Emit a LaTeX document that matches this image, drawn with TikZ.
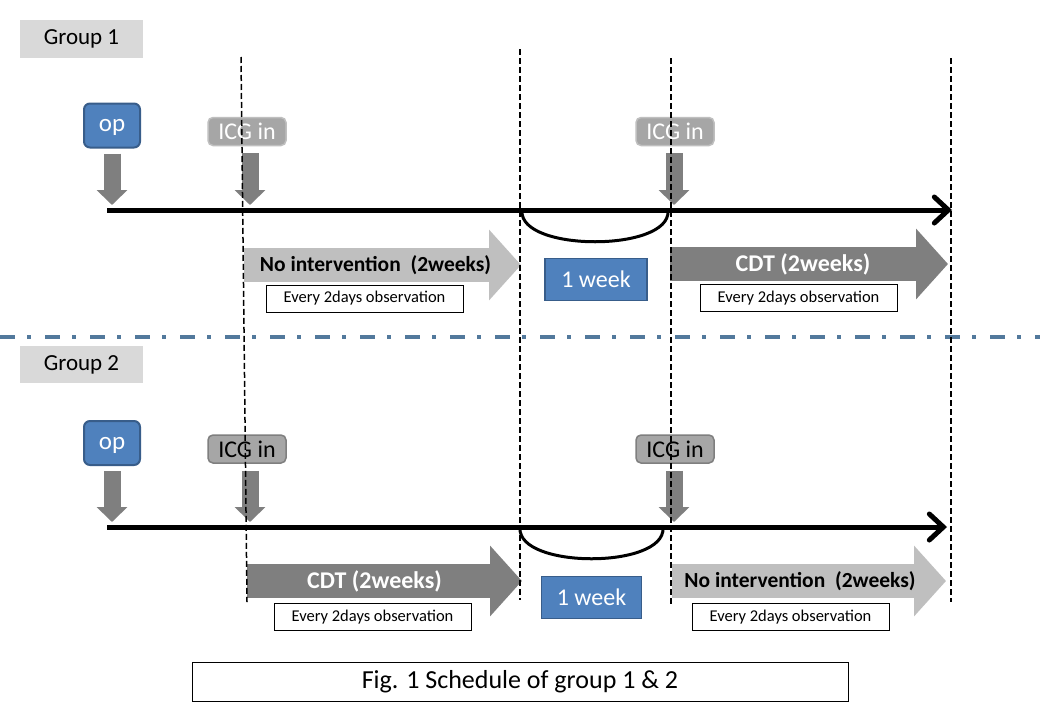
\documentclass[tikz,border=0pt]{standalone}
\usepackage{fontspec}
\setmainfont{Carlito}
\usetikzlibrary{arrows.meta,calc,positioning}
\definecolor{boxblue}{HTML}{4F81BD}
\definecolor{boxedge}{HTML}{385D8A}
\definecolor{labelgray}{HTML}{D9D9D9}
\definecolor{icggray}{HTML}{A6A6A6}
\definecolor{darkarrow}{HTML}{7F7F7F}
\definecolor{lightarrow}{HTML}{BFBFBF}
\definecolor{sepblue}{HTML}{52799C}
\newcommand{\fs}[1]{\fontsize{#1}{#1}\selectfont}
\tikzset{
  grouplabel/.style={fill=labelgray,minimum width=123pt,minimum height=38pt,font=\fs{23}},
  opbox/.style={draw=boxedge,line width=2pt,fill=boxblue,rounded corners=6pt,minimum width=56pt,minimum height=44pt,text=white,text depth=0pt,font=\fs{25}},
  icgbox/.style={draw=#1,line width=1.5pt,fill=icggray,rounded corners=5pt,minimum width=78pt,minimum height=28pt,font=\fs{24}},
  weekbox/.style={draw=boxedge,line width=1.5pt,fill=boxblue,minimum width=102pt,minimum height=42pt,text=white,font=\fs{24}},
  obsbox/.style={draw,line width=1pt,fill=white,minimum width=197pt,minimum height=27pt,font=\fs{16.5}},
  droparrow/.style={darkarrow,line width=17pt,-{Triangle[length=15pt,width=30pt]}},
  phasearrow/.style={#1,line width=34pt,-{Triangle[length=32pt,width=69pt]}},
  phasetext/.style={font=\bfseries\fs{#1}},
  timeline/.style={line width=5pt,-{Straight Barb[length=14pt,width=26pt,line cap=round]}},
  gapbrace/.style={line width=3pt},
  marker/.style={dash pattern=on 6pt off 3pt,line width=1.5pt},
  separator/.style={sepblue,line width=4pt,dash pattern=on 15pt off 12pt on 4pt off 14pt},
}
\begin{document}
\begin{tikzpicture}[x=1pt,y=-1pt]
  \useasboundingbox[fill=white] (0,0) rectangle (1040,720);
  % group 1
  \node[grouplabel] (grp1) at (81.5,39) {Group 1};
  \node[opbox] (op1) at (112,125.5) {op};
  \node[icgbox=lightarrow,text=white] (icg1a) at (247,131.5) {ICG in};
  \node[icgbox=lightarrow,text=white] (icg1b) at (675,131.5) {ICG in};
  \coordinate (tl1s) at (107,210);
  \coordinate (tl1e) at (952,210);
  \draw[droparrow] ($(op1.south)+(0,5)$) -- ($(op1.south |- tl1s)+(0,-5)$);
  \draw[droparrow] ($(icg1a.south)+(3,7)$) -- ($(icg1a.south |- tl1s)+(3,-5)$);
  \draw[droparrow] ($(icg1b.south)+(-1,7)$) -- ($(icg1b.south |- tl1s)+(-1,-5)$);
  \draw[timeline] (tl1s) -- (tl1e);
  \draw[gapbrace] (522,211) .. controls (520,252) and (670,252) .. (668,211);
  \draw[phasearrow=lightarrow] (244,265) -- node[phasetext=21.5,text=black,xshift=-7pt] {No intervention~ (2weeks)} (521,265);
  \draw[phasearrow=darkarrow] (670,264) -- node[phasetext=24,text=white,xshift=-6pt] {CDT (2weeks)} (948,264);
  \node[obsbox] (obs1a) at (364.5,298.5) {Every 2days observation};
  \node[obsbox] (obs1b) at (798.5,298) {Every 2days observation};
  \node[weekbox] (wk1) at (596,279.5) {1 week};
  % separator
  \draw[separator] (0,337) -- (1040,337);
  % group 2
  \node[grouplabel,minimum height=37pt] (grp2) at (81.5,364.5) {Group 2};
  \node[opbox] (op2) at (112,443) {op};
  \node[icgbox=darkarrow] (icg2a) at (247,449) {ICG in};
  \node[icgbox=darkarrow] (icg2b) at (675,449) {ICG in};
  \coordinate (tl2s) at (107,527);
  \coordinate (tl2e) at (947,527);
  \draw[droparrow] ($(op2.south)+(0,5)$) -- ($(op2.south |- tl2s)+(0,-5)$);
  \draw[droparrow] ($(icg2a.south)+(3,7)$) -- ($(icg2a.south |- tl2s)+(3,-5)$);
  \draw[droparrow] ($(icg2b.south)+(-1,7)$) -- ($(icg2b.south |- tl2s)+(-1,-5)$);
  \draw[timeline] (tl2s) -- (tl2e);
  \draw[gapbrace] (520,528) .. controls (518,569) and (665,569) .. (663,528);
  \draw[phasearrow=darkarrow] (247,581) -- node[phasetext=24,text=white,xshift=-10pt] {CDT (2weeks)} (522,581);
  \draw[phasearrow=lightarrow] (672,581) -- node[phasetext=21.5,text=black,xshift=-9pt] {No intervention~ (2weeks)} (946,581);
  \node[obsbox] (obs2a) at (372.5,617) {Every 2days observation};
  \node[obsbox] (obs2b) at (790.5,617) {Every 2days observation};
  \node[weekbox,minimum width=100pt] (wk2) at (591.5,597.5) {1 week};
  % time markers
  \draw[marker] (241,57) -- (247,602);
  \draw[marker] (520,49) -- (520,600);
  \draw[marker] (671,58) -- (671,605);
  \draw[marker] (951,58) -- (951,602);
  % caption
  \node[draw,line width=1pt,minimum width=656pt,minimum height=39pt,font=\fs{26}] (cap) at (520,681.5) {Fig. 1 Schedule of group 1 \& 2};
\end{tikzpicture}
\end{document}
